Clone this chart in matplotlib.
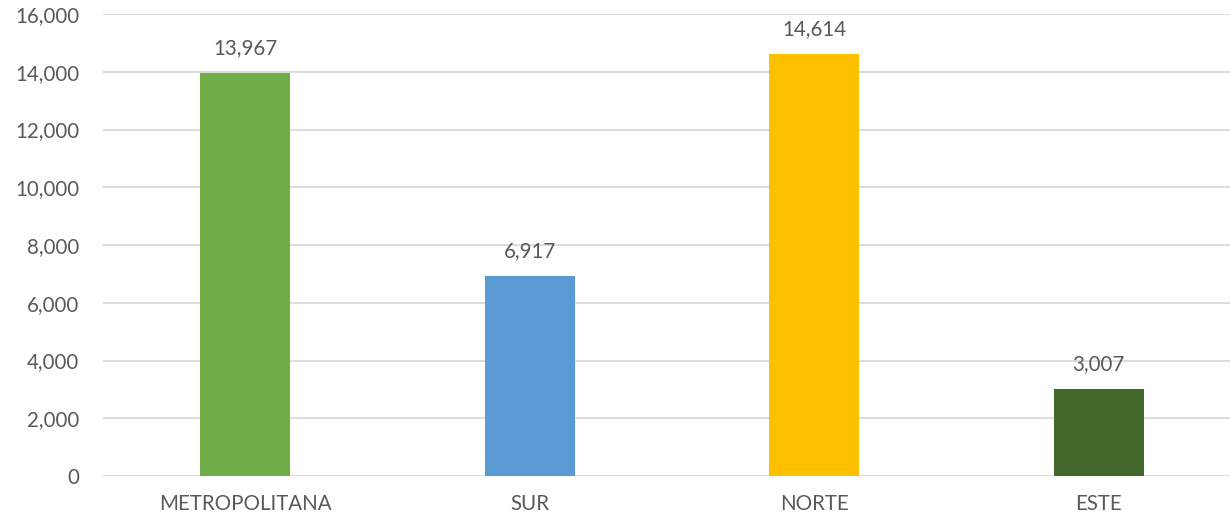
import matplotlib
matplotlib.use("Agg")
import matplotlib.pyplot as plt
from matplotlib.ticker import FuncFormatter, MultipleLocator

regions = ["METROPOLITANA", "SUR", "NORTE", "ESTE"]
values = [13967, 6917, 14614, 3007]
colors = ["#70AD47", "#5B9BD5", "#FFC000", "#43682B"]

plt.rcParams["font.family"] = ["Lato", "DejaVu Sans"]
text_color = "#595959"
grid_color = "#D9D9D9"
fs = 14.8

fig = plt.figure(figsize=(12.3, 5.22), dpi=100)
ax = fig.add_axes([103 / 1230, 46 / 522, 1127 / 1230, 462 / 522])

x = range(len(regions))
bars = ax.bar(x, values, width=0.316, color=colors, zorder=3)

for b, v in zip(bars, values):
    ax.annotate(f"{v:,}", (b.get_x() + b.get_width() / 2, v),
                xytext=(0, 18), textcoords="offset points",
                ha="center", va="center", fontsize=fs, color=text_color)

ax.set_ylim(0, 16000)
ax.set_xlim(-0.5, 3.5 - 11 / 284.7)
ax.yaxis.set_major_locator(MultipleLocator(2000))
ax.yaxis.set_major_formatter(FuncFormatter(lambda v, p: f"{int(v):,}"))
ax.set_xticks(list(x))
ax.set_xticklabels(regions)

ax.grid(axis="y", color=grid_color, linewidth=1.3, zorder=0)
for s in ax.spines.values():
    s.set_visible(False)
ax.tick_params(axis="both", length=0, labelsize=fs, colors=text_color)
ax.tick_params(axis="y", pad=17)
ax.tick_params(axis="x", pad=13)

fig.savefig("out.png", dpi=100)
